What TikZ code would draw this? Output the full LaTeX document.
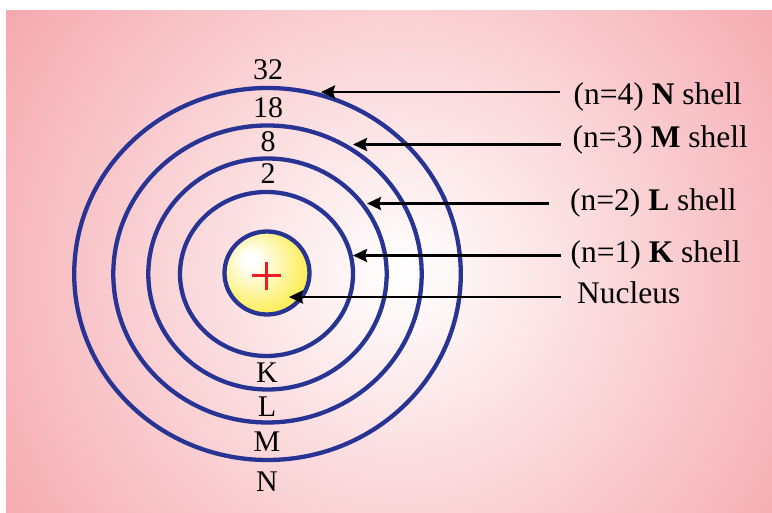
\documentclass[tikz,border=0pt]{standalone}
\usepackage{fontspec}
\setmainfont{Liberation Serif}
\usetikzlibrary{arrows.meta,shapes.geometric}
\definecolor{ringblue}{RGB}{40,52,148}
\definecolor{bgpink}{RGB}{245,168,174}
\definecolor{nucyellow}{RGB}{253,238,90}
\definecolor{plusred}{RGB}{237,28,36}
\pgfdeclareradialshading{nucleusglow}{\pgfpoint{-11bp}{9bp}}{color(0bp)=(white); color(4bp)=(white); color(28bp)=(nucyellow); color(50bp)=(nucyellow)}

\begin{document}
\begin{tikzpicture}[
  x=1pt,y=1pt,
  >={Stealth[length=14pt,width=13pt,inset=2pt]},
  every node/.style={font=\fontsize{30}{36}\selectfont,inner sep=0pt},
  shell/.style={ellipse,draw=ringblue,line width=4.3pt},
  nucleus/.style={shell,shading=nucleusglow},
  pointer/.style={->,line width=2.8pt},
  tag/.style={anchor=base west,font=\fontsize{31.5}{36}\selectfont}
]
\useasboundingbox (0,0) rectangle (772,513);
% background
\begin{scope}
  \clip (6,0) rectangle (772,502);
  \shade[inner color=white,outer color=bgpink] (400,238) circle (480);
\end{scope}

% shells and nucleus
\node[shell,minimum width=386.6pt,minimum height=372pt] (shellN) at (267.5,239) {};
\node[shell,minimum width=308.4pt,minimum height=297pt] (shellM) at (267.5,239) {};
\node[shell,minimum width=238.4pt,minimum height=231pt] (shellL) at (267.5,239) {};
\node[shell,minimum width=173pt,minimum height=164pt] (shellK) at (266.5,239) {};
\node[nucleus,minimum width=85pt,minimum height=83pt] (nuc) at (267,240) {};
\coordinate (plus) at (266.5,237);
\draw[plusred,line width=3pt] ([xshift=-14.5pt]plus) -- ([xshift=14.5pt]plus);
\draw[plusred,line width=3pt] ([yshift=-14pt]plus) -- ([yshift=14pt]plus);

% capacities above, names below
\node[anchor=base] (capN) at (268,433) {32};
\node[anchor=base] (capM) at (268,395.5) {18};
\node[anchor=base] (capL) at (268,361) {8};
\node[anchor=base] (capK) at (268,329.5) {2};
\node[anchor=base] (nameK) at (267,130) {K};
\node[anchor=base] (nameL) at (267,96) {L};
\node[anchor=base] (nameM) at (267,61) {M};
\node[anchor=base] (nameN) at (267,21) {N};

% labels on the right
\node[tag] (lblN) at (573.5,408) {(n=4) \textbf{N} shell};
\node[tag] (lblM) at (572.5,365) {(n=3) \textbf{M} shell};
\node[tag] (lblL) at (570,302.5) {(n=2) \textbf{L} shell};
\node[tag] (lblK) at (570.5,250) {(n=1) \textbf{K} shell};
\node[tag] (lblnuc) at (577,209) {Nucleus};

\coordinate (tipN) at (321,421);
\coordinate (tipM) at (353,368.5);
\coordinate (tipL) at (367,309.5);
\coordinate (tipK) at (353,257.5);
\coordinate (tipnuc) at (289,216);
\draw[pointer,shorten <=13.5pt] (lblN.base west |- tipN) -- (tipN);
\draw[pointer,shorten <=11.5pt] (lblM.base west |- tipM) -- (tipM);
\draw[pointer,shorten <=21.5pt] (lblL.base west |- tipL) -- (tipL);
\draw[pointer,shorten <=9.5pt] (lblK.base west |- tipK) -- (tipK);
\draw[pointer,shorten <=16pt] (lblnuc.base west |- tipnuc) -- (tipnuc);
\end{tikzpicture}
\end{document}
